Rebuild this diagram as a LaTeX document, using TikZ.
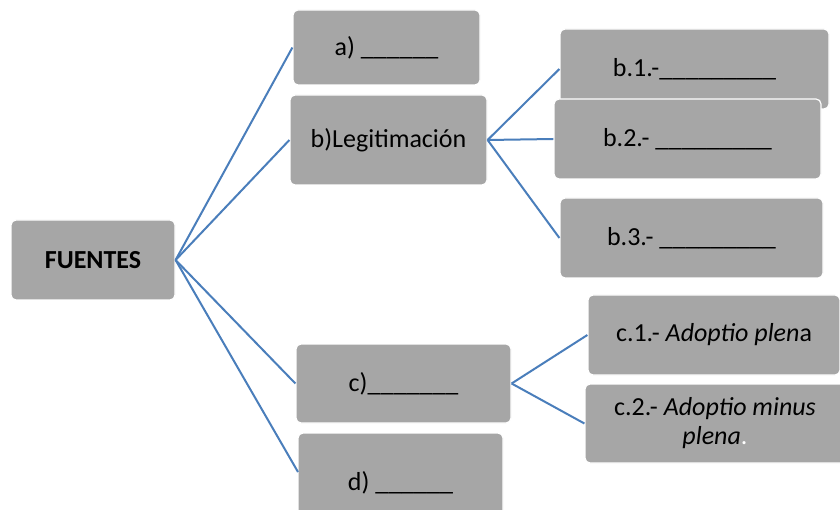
\documentclass[tikz,border=0pt]{standalone}
\usepackage{fontspec}
\setmainfont{Carlito}
\definecolor{boxgray}{HTML}{A6A6A6}
\definecolor{lineblue}{HTML}{4A7EBB}
\tikzset{
  box/.style={fill=boxgray, draw=white, line width=1.2pt, rounded corners=5pt, inner sep=0pt, align=center,
    font=\fontsize{26}{29}\selectfont, text=black},
  conn/.style={draw=lineblue, line width=2pt},
}
\begin{document}
\begin{tikzpicture}[x=1pt,y=-1pt]
\useasboundingbox (0,0) rectangle (840,510);
\clip (0,0) rectangle (840,510);
\fill[white] (0,0) rectangle (840,510);
\node[box, minimum width=164pt, minimum height=80pt] (F) at (93,260) {\textbf{FUENTES}};
\node[box, minimum width=187pt, minimum height=75pt] (A) at (386.5,47.5) {a) \_\_\_\_\_\_};
\node[box, minimum width=197pt, minimum height=90pt] (B) at (388.5,140) {b)Legitimación};
\node[box, minimum width=269pt, minimum height=80pt] (B1) at (694.5,69) {b.1.-\_\_\_\_\_\_\_\_\_};
\node[box, minimum width=267pt, minimum height=80pt] (B2) at (687.5,139) {b.2.- \_\_\_\_\_\_\_\_\_};
\node[box, minimum width=263pt, minimum height=80pt] (B3) at (691.5,238) {b.3.- \_\_\_\_\_\_\_\_\_};
\node[box, minimum width=215pt, minimum height=79pt] (C) at (403.5,383.5) {c)\_\_\_\_\_\_\_};
\node[box, minimum width=205pt, minimum height=100pt] (D) at (400.5,483) {d) \_\_\_\_\_\_};
\node[box, minimum width=252pt, minimum height=80pt] (C1) at (714,335) {c.1.- \textit{Adoptio plen}a};
\node[box, minimum width=260pt, minimum height=79pt] (C2) at (715,423.5) {c.2.- \textit{Adoptio minus}\\\textit{plena}{\color{white}.}};
\coordinate (Fo) at (F.east);
\coordinate (Dw) at (298,472);
\draw[conn] (Fo) -- (A.west);
\draw[conn] (Fo) -- (B.west);
\draw[conn] (Fo) -- (C.west);
\draw[conn] (Fo) -- (Dw);
\draw[conn] (B.east) -- (B1.west);
\draw[conn] (B.east) -- (B2.west);
\draw[conn] (B.east) -- (B3.west);
\draw[conn] (C.east) -- (C1.west);
\draw[conn] (C.east) -- (C2.west);
\end{tikzpicture}
\end{document}
